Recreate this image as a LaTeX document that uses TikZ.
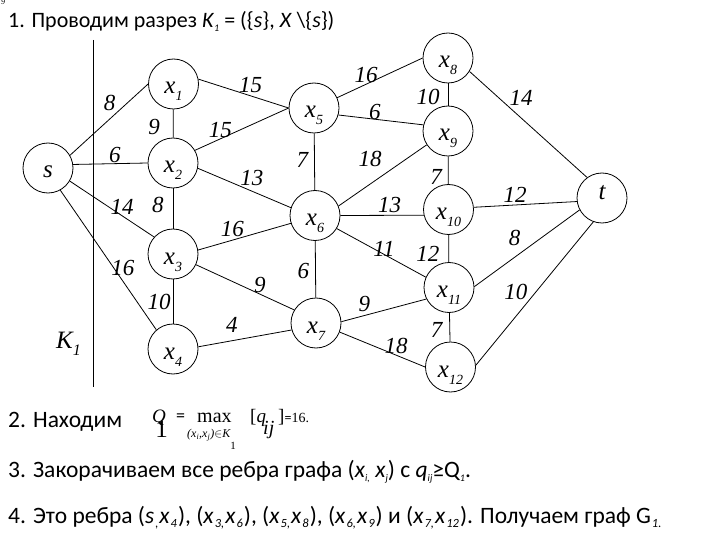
\documentclass[tikz,border=0pt]{standalone}
\usepackage{fontspec}
\setmainfont{Carlito}
\newfontfamily\tms{Liberation Serif}
\newcommand{\vx}[1]{x\raisebox{-7pt}{\fontsize{14}{14}\selectfont #1}}
\newcommand{\lsub}[1]{\raisebox{-4pt}{\fontsize{10}{10}\selectfont\itshape #1}}
\newcommand{\nsub}[1]{\hspace{1pt}\raisebox{-4pt}{\fontsize{12.5}{12.5}\selectfont\itshape #1}\hspace{1pt}}

\begin{document}
\begin{tikzpicture}[
    x=1pt, y=-1pt,
    vertex/.style={circle, draw, line width=0.8pt, minimum size=50pt, inner sep=0pt, text height=20pt, text depth=0pt, font=\tms\itshape\fontsize{25}{25}\selectfont},
    wt/.style={inner sep=1pt, font=\tms\itshape\fontsize{23}{23}\selectfont},
    edge/.style={line width=0.8pt},
    txt/.style={anchor=base west, inner sep=0pt, font=\fontsize{23.5}{23.5}\selectfont},
    frm/.style={anchor=base west, inner sep=0pt}
]
\useasboundingbox (0,0) rectangle (720,540);

\node[frm, font=\tms\itshape\fontsize{8}{8}\selectfont] (corner) at (1,5) {9};

\node[vertex] (s) at (48,168) {s};
\node[vertex] (x1) at (173.5,84) {\vx{1}};
\node[vertex] (x2) at (173,163) {\vx{2}};
\node[vertex] (x3) at (173,254) {\vx{3}};
\node[vertex] (x4) at (173,349) {\vx{4}};
\node[vertex] (x5) at (314,108) {\vx{5}};
\node[vertex] (x6) at (315,215.5) {\vx{6}};
\node[vertex] (x7) at (316,323) {\vx{7}};
\node[vertex] (x8) at (448,58) {\vx{8}};
\node[vertex] (x9) at (448,131) {\vx{9}};
\node[vertex] (x10) at (448.5,209.5) {\vx{10}};
\node[vertex] (x11) at (449,287.5) {\vx{11}};
\node[vertex] (x12) at (450.5,367) {\vx{12}};
\node[vertex, text height=4pt, text depth=0pt] (t) at (602,198) {t};

\draw[edge] (s.30) -- node[wt, pos=.6, above left] {8} (x1.west);
\draw[edge] (s.8) -- node[wt, pos=.56, above] {6} (x2.west);
\draw[edge] (s.-31) -- node[wt, pos=.62, above] {14} (x3.138);
\draw[edge] (s.-61) -- node[wt, pos=.56, right=-4pt] {16} (x4.131);
\draw[edge] (x1) -- node[wt, pos=.62, left=12pt] {9} (x2);
\draw[edge] (x1.11) -- node[wt, pos=.58, above=2pt] {15} (x5.west);
\draw[edge] (x2.30) -- node[wt, pos=.27, above] {15} (x5.west);
\draw[edge] (x2.-12) -- node[wt, pos=.58, above=4pt] {13} (x6.162);
\draw[edge] (x2) -- node[wt, pos=.41, left=8pt] {8} (x3);
\draw[edge] (x3.9) -- node[wt, pos=.37, above=2pt] {16} (x6.198);
\draw[edge] (x3.-25) -- node[wt, pos=.65, above] {9} (x7.149);
\draw[edge] (x3) -- node[wt, pos=.51, left=1pt] {10} (x4);
\draw[edge] (x4.5) -- node[wt, pos=.36, above=7pt] {4} (x7.196);
\draw[edge] (x5) -- node[wt, pos=.47, left=5pt] {7} (x6);
\draw[edge] (x6) -- node[wt, pos=.53, left=5pt] {6} (x7);
\draw[edge] (x5.24) -- node[wt, pos=.34, above] {16} (x8.west);
\draw[edge] (x5.-16) -- node[wt, pos=.43, above=-2pt] {6} (x9.166);
\draw[edge] (x6.22) -- node[wt, pos=.55, above left=4pt] {18} (x9.213);
\draw[edge] (x6.east) -- node[wt, pos=.59, above=1pt] {13} (x10.193);
\draw[edge] (x6.-31) -- node[wt, pos=.53, above=-4pt] {11} (x11.156);
\draw[edge] (x7.3) -- node[wt, pos=.27, above=2pt] {9} (x11.207);
\draw[edge] (x7.-21) -- node[wt, pos=.66, above] {18} (x12.west);
\draw[edge] (x8) -- node[wt, pos=.6, left=7pt] {10} (x9);
\draw[edge] (x9) -- node[wt, pos=.74, left=5pt] {7} (x10);
\draw[edge] (x10) -- node[wt, pos=.7, left=8pt] {12} (x11);
\draw[edge] (x11) -- node[wt, pos=.6, left=6pt] {7} (x12);
\draw[edge] (x8.-32) -- node[wt, pos=.33, above right] {14} (t.126);
\draw[edge] (x10.5) -- node[wt, pos=.4, above=1pt] {12} (t.188);
\draw[edge] (x11.2) -- node[wt, pos=.48, above left=3pt] {8} (t.208);
\draw[edge] (x12.4) -- node[wt, pos=.45, above left] {10} (t.250);

% cut K1
\coordinate (cutTop) at (93,40);
\coordinate (cutBot) at (93,387);
\draw[edge] (cutTop) -- (cutBot);
\node[frm, font=\tms\itshape\fontsize{25}{25}\selectfont] (k1) at (56,348) {K\raisebox{-7pt}{\fontsize{16}{16}\selectfont 1}};

\node[txt, font=\fontsize{22}{22}\selectfont] (step1) at (8,28) {1. Проводим разрез \textit{K}\lsub{1} = (\{\textit{s}\}, \textit{X} \textbackslash\{\textit{s}\})};
\node[txt] (step2) at (8,427) {2. Находим};

% Q1 = max [q_ij] = 16.
\node[frm, font=\tms\fontsize{19}{19}\selectfont] (fq) at (152,422) {\textit{Q}\hspace{-10.5pt}\raisebox{-15pt}{\fontsize{25}{25}\selectfont 1}};
\node[frm, font=\fontsize{18}{18}\selectfont] (feq) at (176,421) {=};
\node[frm, font=\tms\fontsize{20}{20}\selectfont] (fmax) at (197,422) {max};
\node[frm, font=\tms\itshape\fontsize{12}{12}\selectfont] (fsub) at (187,437.5) {(x\textsubscript{i},x\textsubscript{j})$\in$K\raisebox{-12pt}{\fontsize{11}{11}\selectfont\upshape 1}};
\node[frm, font=\tms\fontsize{19}{19}\selectfont] (fq2) at (250,422) {[\textit{q}};
\node[frm, font=\tms\itshape\fontsize{20}{20}\selectfont] (fij) at (263,434) {ij};
\node[frm, font=\tms\fontsize{19}{19}\selectfont] (fend) at (278,422) {]{\fontsize{14}{14}\selectfont\normalfont =}{\fontsize{14}{14}\selectfont 16.}};

\node[txt] (step3) at (8,477) {3. Закорачиваем все ребра графа (\textit{x}\lsub{i,} \textit{x}\lsub{j}) с \textit{q}\lsub{ij}≥Q\lsub{1}.};
\node[txt] (step4) at (8,523) {4. Это ребра (\textit{s}\nsub{,}\textit{x}\nsub{4}), (\textit{x}\nsub{3,}\textit{x}\nsub{6}), (\textit{x}\nsub{5,}\textit{x}\nsub{8}), (\textit{x}\nsub{6,}\textit{x}\nsub{9}) и (\textit{x}\nsub{7,}\textit{x}\nsub{12}). Получаем граф G\nsub{1.}};
\end{tikzpicture}
\end{document}
